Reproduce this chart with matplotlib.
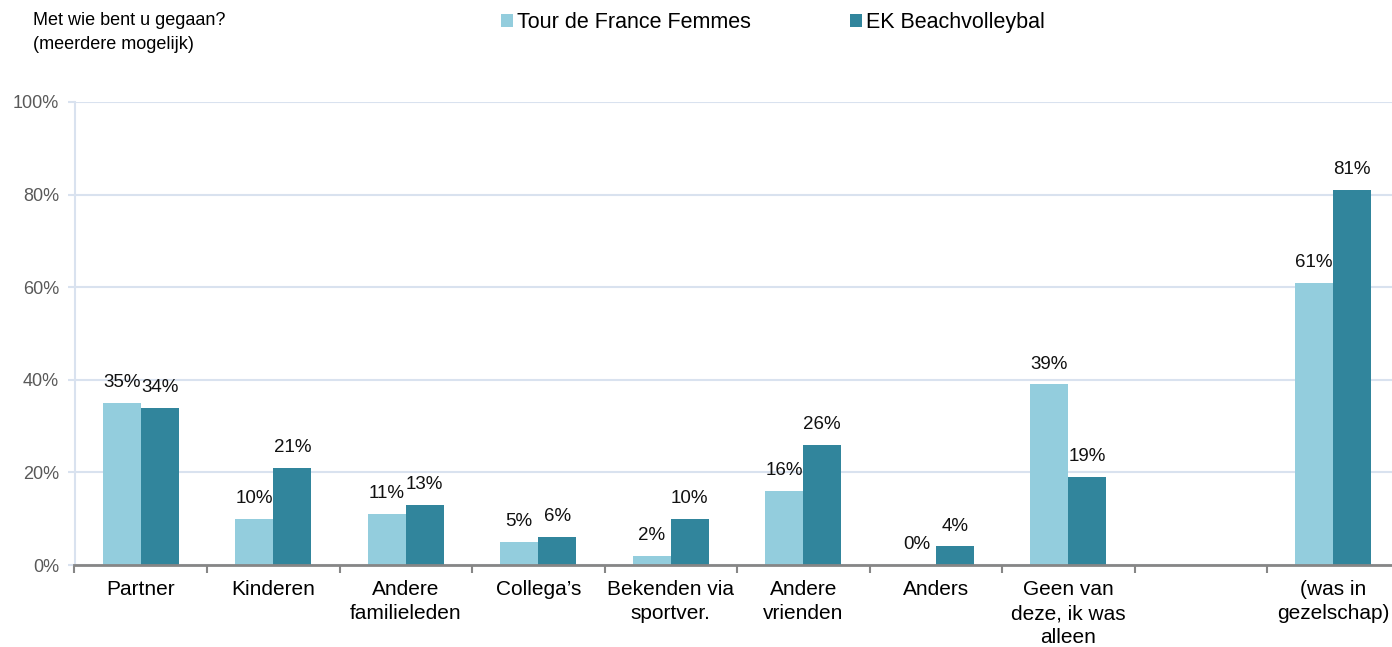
import matplotlib.pyplot as plt
import numpy as np

plt.rcParams["font.family"] = ["Liberation Sans", "DejaVu Sans"]

categories = ["Partner", "Kinderen", "Andere\nfamilieleden", "Collega\u2019s",
              "Bekenden via\nsportver.", "Andere\nvrienden", "Anders",
              "Geen van\ndeze, ik was\nalleen", "", "(was in\ngezelschap)"]
tour = [35, 10, 11, 5, 2, 16, 0, 39, np.nan, 61]
ek = [34, 21, 13, 6, 10, 26, 4, 19, np.nan, 81]
series_names = ["Tour de France Femmes", "EK Beachvolleybal"]

LIGHT = "#93CDDD"
DARK = "#31859C"
GRID = "#D9E2EF"

fig = plt.figure(figsize=(13.92, 6.47), dpi=100)
ax = fig.add_axes([74.5 / 1392, 1 - 565 / 647, 1325 / 1392, 463 / 647])

x = np.arange(len(categories))
w = 0.287
b1 = ax.bar(x - w / 2, tour, w, color=LIGHT, label=series_names[0], zorder=3)
b2 = ax.bar(x + w / 2, ek, w, color=DARK, label=series_names[1], zorder=3)

for xs, vals in [(x - w / 2, tour), (x + w / 2, ek)]:
    for xi, v in zip(xs, vals):
        if np.isnan(v):
            continue
        ax.annotate(f"{v:.0f}%", (xi, v), xytext=(0, 8.5), textcoords="offset points",
                    ha="center", va="bottom", fontsize=13.5, color="#111111")

ax.set_xlim(-0.5, len(categories) - 0.5)
ax.set_ylim(0, 100)
ax.set_yticks(np.arange(0, 101, 20))
ax.set_yticklabels([f"{v}%" for v in range(0, 101, 20)])
ax.yaxis.grid(True, color=GRID, linewidth=1.5, zorder=0)
ax.tick_params(axis="y", length=5, width=1.5, color=GRID, labelcolor="#595959",
               labelsize=13, pad=6)

ax.set_xticks(x)
ax.set_xticklabels(categories, fontsize=15, linespacing=1.32)
ax.set_xticks(np.arange(-0.5, len(categories)), minor=True)
ax.tick_params(axis="x", which="major", length=0, pad=11)
ax.tick_params(axis="x", which="minor", length=6, width=1.5, color="#868686")

for s in ["top", "right"]:
    ax.spines[s].set_visible(False)
ax.spines["left"].set_color(GRID)
ax.spines["left"].set_linewidth(1.5)
ax.spines["bottom"].set_color("#868686")
ax.spines["bottom"].set_linewidth(2)
ax.spines["bottom"].set_zorder(4)

fig.text(33 / 1392, 1 - 12 / 647, "Met wie bent u gegaan?\n(meerdere mogelijk)",
         ha="left", va="top", fontsize=13, linespacing=1.55)

fig.legend(handles=[b1, b2], labels=series_names, loc="upper left",
           bbox_to_anchor=(501 / 1392, 1 - 12 / 647), ncol=2, frameon=False,
           fontsize=15.5, handlelength=0.55, handleheight=0.55, handletextpad=0.2,
           columnspacing=4.6, borderpad=0, borderaxespad=0)

fig.savefig("out.png", dpi=100)
